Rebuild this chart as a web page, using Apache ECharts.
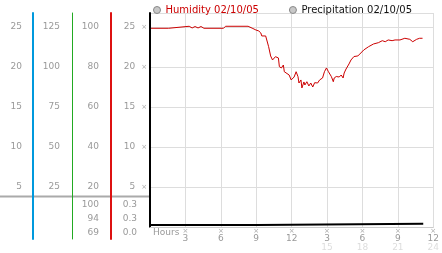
<!DOCTYPE html>
<html>
<head>
<meta charset="utf-8">
<script src="https://cdn.jsdelivr.net/npm/echarts@6/dist/echarts.min.js"></script>
<style>
html,body{margin:0;padding:0;background:#fff;}
#c{width:442px;height:253px;}
</style>
</head>
<body>
<div id="c"></div>
<script>
// ---- data ----
var humHours = [0.08,1.58,1.66,3.32,3.57,3.82,4.07,4.32,4.57,6.23,6.40,8.31,8.39,8.72,8.97,9.22,9.39,9.47,9.80,10.05,10.22,10.38,10.63,10.88,10.96,11.13,11.30,11.38,11.54,11.79,11.96,12.21,12.38,12.54,12.62,12.79,12.87,13.04,13.12,13.29,13.46,13.62,13.79,13.95,14.20,14.37,14.62,14.78,14.95,15.12,15.20,15.37,15.53,15.61,15.78,16.03,16.20,16.36,16.45,16.61,16.86,17.03,17.28,17.61,17.86,18.11,18.52,18.94,19.35,19.68,19.93,20.18,20.51,20.76,21.18,21.59,22.01,22.26,22.59,22.84,23.09];
var humValues = [24.84,24.84,25.09,25.09,24.88,25.06,24.88,25.06,24.84,24.84,25.09,25.09,24.84,24.81,24.63,24.5,24.25,23.88,23.88,22.54,21.38,20.88,21.29,21.13,20.04,19.88,20.25,19.41,19.54,19.0,18.38,18.75,19.41,18.79,18.0,18.38,17.38,18.13,17.75,18.16,17.63,18.0,17.5,18.04,18.0,18.38,18.63,19.41,19.88,19.41,19.25,18.79,18.16,18.63,18.81,18.75,19.0,18.63,19.25,19.75,20.38,20.88,21.31,21.38,21.75,22.13,22.54,22.88,23.04,23.29,23.16,23.38,23.29,23.38,23.38,23.59,23.46,23.16,23.46,23.59,23.59];
var precipHours = [0, 9.12, 9.12, 23.15];
var precipValues = [0, 0, 0.3, 0.3];
var humStats = ['100', '94', '69'];
var precipStats = ['0.3', '0.3', '0.0'];
var legendNames = ['Humidity 02/10/05', 'Precipitation 02/10/05'];

var humData = humHours.map(function(h, i){ return [h, humValues[i]]; });
var precipData = precipHours.map(function(h, i){ return [h, precipValues[i]]; });

var FONT = 'DejaVu Sans';
var GRAY = '#999';
var CYAN = '#0099dd';
var GREEN = '#22aa22';
var RED = '#dd1111';

function yLab(v){ return v === 0 ? '' : String(v); }

var chart = echarts.init(document.getElementById('c'), null, {renderer:'canvas'});
chart.setOption({
  animation: false,
  backgroundColor: '#fff',
  textStyle: {fontFamily: FONT},
  legend: {
    left: 148, top: 0, itemWidth: 7, itemHeight: 7, itemGap: 30, icon: 'circle',
    textStyle: {fontFamily: FONT, fontSize: 10},
    data: [
      {name: legendNames[0], itemStyle: {color: '#c8c8c8', borderColor: '#888', borderWidth: 1}, textStyle: {color: '#cc0000'}},
      {name: legendNames[1], itemStyle: {color: '#c8c8c8', borderColor: '#888', borderWidth: 1}, textStyle: {color: '#111'}}
    ]
  },
  grid: [
    {left: 150, right: 3, top: 13, bottom: 26, containLabel: false},
    {left: 150, right: 3, top: 198, height: 41, containLabel: false}
  ],
  xAxis: [
    {
      gridIndex: 0, type: 'value', min: 0, max: 24, interval: 3,
      axisLine: {show: true, onZero: false, lineStyle: {color: '#ccc', width: 1}},
      axisTick: {show: false},
      splitLine: {show: true, lineStyle: {color: '#ddd', width: 1}},
      axisLabel: {
        margin: 1, showMinLabel: true, showMaxLabel: true, hideOverlap: false,
        formatter: function(v){
          if (v === 0) return '';
          var a = (v % 12 === 0) ? 12 : v % 12;
          var b = v > 12 ? String(v) : ' ';
          return '{t|×}\n{a|' + a + '}\n{b|' + b + '}';
        },
        rich: {
          t: {fontSize: 7, lineHeight: 6, color: '#aaa', fontFamily: FONT},
          a: {fontSize: 9, lineHeight: 9, color: GRAY, fontFamily: FONT},
          b: {fontSize: 9, lineHeight: 9, color: '#ddd', fontFamily: FONT}
        }
      }
    },
    {gridIndex: 1, type: 'value', min: 0, max: 24, show: false}
  ],
  yAxis: [
    { // 0: main inner scale
      gridIndex: 0, type: 'value', position: 'left', offset: 0, min: 0, max: 26.75, interval: 5,
      axisLine: {show: true, onZero: false, lineStyle: {color: '#000', width: 2}},
      axisTick: {show: false},
      splitLine: {show: true, lineStyle: {color: '#ddd', width: 1}},
      axisLabel: {
        margin: 3, showMaxLabel: false,
        formatter: function(v){ return v === 0 ? '' : '{v|' + v + '}{t|×}'; },
        rich: {
          v: {fontSize: 9, color: GRAY, fontFamily: FONT},
          t: {fontSize: 7, color: '#aaa', padding: [0, 0, 0, 6], fontFamily: FONT}
        }
      }
    },
    { // 1: humidity % (red)
      gridIndex: 0, type: 'value', position: 'left', offset: 39, min: 0, max: 107, interval: 20,
      axisLine: {show: true, onZero: false, lineStyle: {color: RED, width: 2}},
      axisTick: {show: false}, splitLine: {show: false},
      axisLabel: {margin: 12, showMaxLabel: false, formatter: yLab, color: GRAY, fontSize: 9, fontFamily: FONT}
    },
    { // 2: green
      gridIndex: 0, type: 'value', position: 'left', offset: 78, min: 0, max: 133.75, interval: 25,
      axisLine: {show: true, onZero: false, lineStyle: {color: GREEN, width: 1}},
      axisTick: {show: false}, splitLine: {show: false},
      axisLabel: {margin: 12, showMaxLabel: false, formatter: yLab, color: GRAY, fontSize: 9, fontFamily: FONT}
    },
    { // 3: cyan
      gridIndex: 0, type: 'value', position: 'left', offset: 117, min: 0, max: 26.75, interval: 5,
      axisLine: {show: true, onZero: false, lineStyle: {color: CYAN, width: 2}},
      axisTick: {show: false}, splitLine: {show: false},
      axisLabel: {margin: 11, showMaxLabel: false, formatter: yLab, color: GRAY, fontSize: 9, fontFamily: FONT}
    },
    { // 4: precipitation (hidden)
      gridIndex: 0, type: 'value', show: false, min: -0.46, max: 48.9
    },
    { // 5: stats humidity
      gridIndex: 1, type: 'category', inverse: true, position: 'left', offset: 39, data: humStats,
      axisLine: {show: true, onZero: false, lineStyle: {color: RED, width: 2}},
      axisTick: {show: false}, splitLine: {show: false},
      axisLabel: {margin: 12, color: GRAY, fontSize: 9, fontFamily: FONT, interval: 0}
    },
    { // 6: stats precipitation
      gridIndex: 1, type: 'category', inverse: true, position: 'left', offset: 0, data: precipStats,
      axisLine: {show: false, onZero: false}, axisTick: {show: false}, splitLine: {show: false},
      axisLabel: {margin: 13, color: GRAY, fontSize: 9, fontFamily: FONT, interval: 0}
    },
    { // 7: green extension
      gridIndex: 1, type: 'category', position: 'left', offset: 78, data: humStats,
      axisLine: {show: true, onZero: false, lineStyle: {color: GREEN, width: 1}},
      axisTick: {show: false}, axisLabel: {show: false}, splitLine: {show: false}
    },
    { // 8: cyan extension
      gridIndex: 1, type: 'category', position: 'left', offset: 117, data: humStats,
      axisLine: {show: true, onZero: false, lineStyle: {color: CYAN, width: 2}},
      axisTick: {show: false}, axisLabel: {show: false}, splitLine: {show: false}
    }
  ],
  graphic: [
    {type: 'line', z: 0, shape: {x1: 0, y1: 196.5, x2: 149, y2: 196.5}, style: {stroke: '#aaa', lineWidth: 2}},
    {type: 'text', left: 153, top: 228, style: {text: 'Hours', fill: GRAY, fontSize: 9, fontFamily: FONT}}
  ],
  series: [
    {
      name: legendNames[0], type: 'line', xAxisIndex: 0, yAxisIndex: 0,
      data: humData, showSymbol: false, symbol: 'none', z: 3,
      lineStyle: {color: '#cc0000', width: 1}, itemStyle: {color: '#cc0000'}
    },
    {
      name: legendNames[1], type: 'line', xAxisIndex: 0, yAxisIndex: 4,
      data: precipData, showSymbol: false, symbol: 'none', z: 4,
      lineStyle: {color: '#000', width: 2}, itemStyle: {color: '#000'}
    }
  ]
});
</script>
</body>
</html>
